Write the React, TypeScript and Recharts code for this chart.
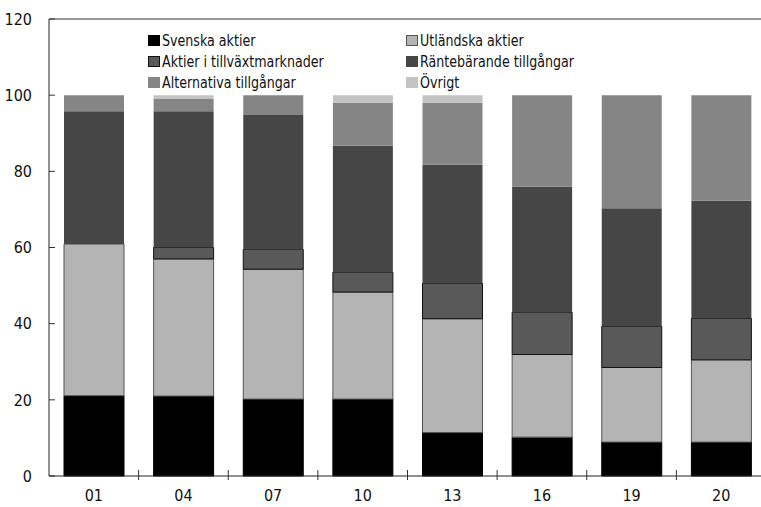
import { BarChart, Bar, XAxis, YAxis, ReferenceLine, Legend } from "recharts";

const years = ["01", "04", "07", "10", "13", "16", "19", "20"];
const svenska = [21.1, 21.0, 20.2, 20.2, 11.4, 10.2, 8.9, 8.9];
const utlandska = [39.8, 36.0, 34.1, 28.1, 29.9, 21.7, 19.6, 21.6];
const tillvaxt = [0, 3.0, 5.2, 5.2, 9.3, 11.1, 10.8, 10.9];
const rantebarande = [34.9, 35.8, 35.3, 33.2, 31.1, 33.0, 31.0, 30.9];
const alternativa = [4.2, 3.2, 5.2, 11.3, 16.3, 24.0, 29.7, 27.7];
const ovrigt = [0, 1.0, 0, 2.0, 2.0, 0, 0, 0];
const yTicks = [0, 20, 40, 60, 80, 100, 120];

const FONT = "'Liberation Sans Narrow', 'DejaVu Sans Condensed', 'Liberation Sans', sans-serif";
const X_MARGIN = 14;

const series = [
  { key: "svenska", name: "Svenska aktier", fill: "#000000", stroke: "#000000" },
  { key: "utlandska", name: "Utländska aktier", fill: "#b4b4b4", stroke: "#555555" },
  { key: "tillvaxt", name: "Aktier i tillväxtmarknader", fill: "#595959", stroke: "#111111" },
  { key: "rantebarande", name: "Räntebärande tillgångar", fill: "#464646", stroke: "none" },
  { key: "alternativa", name: "Alternativa tillgångar", fill: "#858585", stroke: "none" },
  { key: "ovrigt", name: "Övrigt", fill: "#c3c3c3", stroke: "none" },
];

const data = years.map((year, i) => ({
  year,
  svenska: svenska[i],
  utlandska: utlandska[i],
  tillvaxt: tillvaxt[i],
  rantebarande: rantebarande[i],
  alternativa: alternativa[i],
  ovrigt: ovrigt[i],
}));

// label in the middle of the band, tick mark on the band boundary
// eslint-disable-next-line @typescript-eslint/no-explicit-any
const XTick = (props: any) => {
  const { x, y, payload, index, width, visibleTicksCount } = props;
  const axisY = y - X_MARGIN;
  const off = payload && payload.offset ? payload.offset : width / visibleTicksCount / 2;
  return (
    <g>
      <text x={x} y={y} dy="0.71em" textAnchor="middle" fill="#111" fontSize={16} fontFamily={FONT}>
        {payload.value}
      </text>
      {index < visibleTicksCount - 1 ? (
        <line x1={x + off} x2={x + off} y1={axisY - 6} y2={axisY + 4} stroke="#333" />
      ) : null}
    </g>
  );
};

const LegendContent = () => (
  <div
    style={{
      display: "grid",
      gridTemplateColumns: "258px 258px",
      fontFamily: FONT,
      fontSize: 16,
      color: "#111",
    }}
  >
    {series.map((s) => (
      <div key={s.key} style={{ display: "flex", alignItems: "center", height: 21, whiteSpace: "nowrap" }}>
        <span
          style={{
            display: "inline-block",
            boxSizing: "border-box",
            width: 12,
            height: 11,
            background: s.fill,
            border: s.stroke === "none" ? "none" : `1px solid ${s.stroke}`,
            marginRight: 2,
          }}
        />
        <span style={{ display: "inline-block", transform: "scaleX(0.88)", transformOrigin: "left center" }}>
          {s.name}
        </span>
      </div>
    ))}
  </div>
);

export default function App() {
  return (
    <div
      style={{
        position: "absolute",
        left: 0,
        top: 0,
        width: 761,
        height: 507,
        overflow: "hidden",
        background: "#fff",
      }}
    >
      <BarChart width={780} height={507} data={data} margin={{ top: 19, right: 14, left: 0, bottom: 0 }}>
        <YAxis
          width={49}
          domain={[0, 120]}
          ticks={yTicks}
          interval={0}
          tickSize={6}
          tickMargin={11}
          tickLine={{ stroke: "#333", transform: "translate(6,0)" }}
          axisLine={{ stroke: "#222" }}
          tick={{ fill: "#111", fontSize: 16, fontFamily: FONT }}
        />
        <XAxis
          dataKey="year"
          height={31}
          interval={0}
          tickSize={0}
          tickMargin={X_MARGIN}
          tickLine={false}
          axisLine={{ stroke: "#222" }}
          tick={<XTick />}
        />
        <ReferenceLine y={120} stroke="#333" />
        <Legend
          layout="horizontal"
          verticalAlign="middle"
          align="center"
          wrapperStyle={{ left: 148, top: 30, width: 520 }}
          content={<LegendContent />}
        />
        {series.map((s) => (
          <Bar
            key={s.key}
            dataKey={s.key}
            name={s.name}
            stackId="a"
            fill={s.fill}
            stroke={s.stroke}
            strokeWidth={1}
            barSize={60}
            isAnimationActive={false}
          />
        ))}
      </BarChart>
    </div>
  );
}
